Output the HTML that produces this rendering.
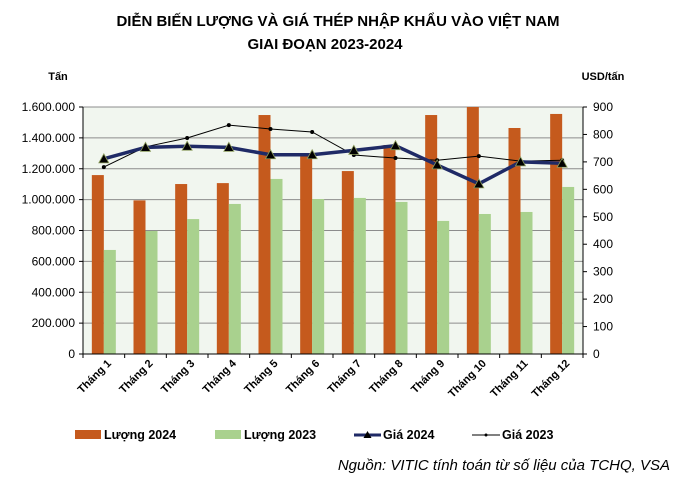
<!DOCTYPE html>
<html><head><meta charset="utf-8">
<style>
body{margin:0;background:#fff;width:677px;height:479px;overflow:hidden;font-family:"Liberation Sans",Arial,sans-serif;}
svg text{font-family:"Liberation Sans",Arial,sans-serif;}
</style></head>
<body>
<svg id="chart" width="677" height="479" xmlns="http://www.w3.org/2000/svg">
<text x="338" y="26" text-anchor="middle" font-size="15" font-weight="bold">DIỄN BIẾN LƯỢNG VÀ GIÁ THÉP NHẬP KHẨU VÀO VIỆT NAM</text>
<text x="325" y="49" text-anchor="middle" font-size="15" font-weight="bold">GIAI ĐOẠN 2023-2024</text>
<text x="58" y="80" text-anchor="middle" font-size="11" font-weight="bold" font-family="Liberation Serif">Tấn</text>
<text x="603" y="80" text-anchor="middle" font-size="11" font-weight="bold" font-family="Liberation Serif">USD/tấn</text>
<rect x="83" y="107" width="500" height="247" fill="#f1f6ef"/>
<g id="grid"></g><g id="bars"></g><g id="lines"></g><g id="axes"></g>
<g>
<rect x="75" y="430" width="26" height="9" fill="#c55a1d"/>
<text x="104" y="439" font-size="12.5" font-weight="bold">Lượng 2024</text>
<rect x="215" y="430" width="26" height="9" fill="#a9d18e"/>
<text x="244" y="439" font-size="12.5" font-weight="bold">Lượng 2023</text>
<line x1="354" y1="435" x2="381" y2="435" stroke="#1f2a66" stroke-width="3"/>
<polygon points="367.5,431 371.5,438 363.5,438" fill="#000"/>
<text x="383" y="439" font-size="12.5" font-weight="bold">Giá 2024</text>
<line x1="472" y1="435" x2="500" y2="435" stroke="#000" stroke-width="1"/>
<circle cx="486" cy="435" r="1.5" fill="#000"/>
<text x="502" y="439" font-size="12.5" font-weight="bold">Giá 2023</text>
</g>
<text x="670" y="470" text-anchor="end" font-size="15" font-style="italic">Nguồn: VITIC tính toán từ số liệu của TCHQ, VSA</text>
</svg>
<script>
const categories=["Tháng 1","Tháng 2","Tháng 3","Tháng 4","Tháng 5","Tháng 6","Tháng 7","Tháng 8","Tháng 9","Tháng 10","Tháng 11","Tháng 12"];
const luong2024=[1159000,995000,1101000,1107000,1548000,1283000,1185000,1354000,1548000,1600000,1464000,1555000];
const luong2023=[674000,797000,874000,972000,1134000,1004000,1011000,985000,862000,907000,920000,1082000];
const gia2024=[711,753,757,753,726,726,742,759,689,620,700,695];
const gia2023=[681,755,787,834,820,809,725,714,706,721,703,706];
const leftTicks=["0","200.000","400.000","600.000","800.000","1.000.000","1.200.000","1.400.000","1.600.000"];
const rightTicks=["0","100","200","300","400","500","600","700","800","900"];
const NS="http://www.w3.org/2000/svg";
const X0=83,X1=583,Y0=354,Y1=107;
const cw=(X1-X0)/categories.length;
const yL=v=>Y0-v/1600000*(Y0-Y1);
const yR=v=>Y0-v/900*(Y0-Y1);
const xc=i=>X0+cw*(i+0.5);
function mk(tag,attrs,parent){const e=document.createElementNS(NS,tag);for(const k in attrs)e.setAttribute(k,attrs[k]);document.getElementById(parent).appendChild(e);return e;}
leftTicks.forEach((t,i)=>{const y=yL(i*200000);
 if(i>0){const g=mk('line',{x1:X0,x2:X1,y1:y,y2:y,stroke:'#8c8c8c','stroke-width':1},'grid');}
 mk('line',{x1:X0-4,x2:X0,y1:y,y2:y,stroke:'#000'},'axes');
 const tx=mk('text',{x:X0-8,y:y+4,'text-anchor':'end','font-size':'12'},'axes');tx.textContent=t;
 });
rightTicks.forEach((t,i)=>{const y=yR(i*100);
 mk('line',{x1:X1,x2:X1+4,y1:y,y2:y,stroke:'#000'},'axes');
 const tx=mk('text',{x:X1+10,y:y+4,'font-size':'12'},'axes');tx.textContent=t;
 });
categories.forEach((c,i)=>{const x=xc(i);
 const b1=mk('rect',{x:x-12,y:yL(luong2024[i]),width:12,height:Y0-yL(luong2024[i]),fill:'#c55a1d'},'bars');
 
 const b2=mk('rect',{x:x,y:yL(luong2023[i]),width:12,height:Y0-yL(luong2023[i]),fill:'#a9d18e'},'bars');
 
 mk('line',{x1:X0+cw*i,x2:X0+cw*i,y1:Y0,y2:Y0+4,stroke:'#000'},'axes');
 const tx=mk('text',{x:x+8,y:Y0+10,'text-anchor':'end','font-size':'11','font-weight':'bold',transform:`rotate(-45 ${x+8} ${Y0+10})`},'axes');
 tx.textContent=c;});
mk('line',{x1:X1-cw*0,x2:X1,y1:Y0,y2:Y0+4,stroke:'#000'},'axes');
mk('line',{x1:X0,x2:X0,y1:Y1,y2:Y0,stroke:'#000'},'axes');
mk('line',{x1:X1,x2:X1,y1:Y1,y2:Y0,stroke:'#000'},'axes');
mk('line',{x1:X0,x2:X1,y1:Y0,y2:Y0,stroke:'#000'},'axes');
const l23=mk('polyline',{points:gia2023.map((v,i)=>xc(i)+','+yR(v)).join(' '),fill:'none',stroke:'#000','stroke-width':1},'lines');

gia2023.forEach((v,i)=>{const p=mk('circle',{cx:xc(i),cy:yR(v),r:2,fill:'#000'},'lines');});
const l24=mk('polyline',{points:gia2024.map((v,i)=>xc(i)+','+yR(v)).join(' '),fill:'none',stroke:'#1f2a66','stroke-width':3.5},'lines');

gia2024.forEach((v,i)=>{const x=xc(i),y=yR(v);const p=mk('polygon',{points:`${x},${y-5} ${x+5},${y+4} ${x-5},${y+4}`,fill:'#000',stroke:'#8a9a5b','stroke-width':0.8},'lines');});
</script>
</body></html>
